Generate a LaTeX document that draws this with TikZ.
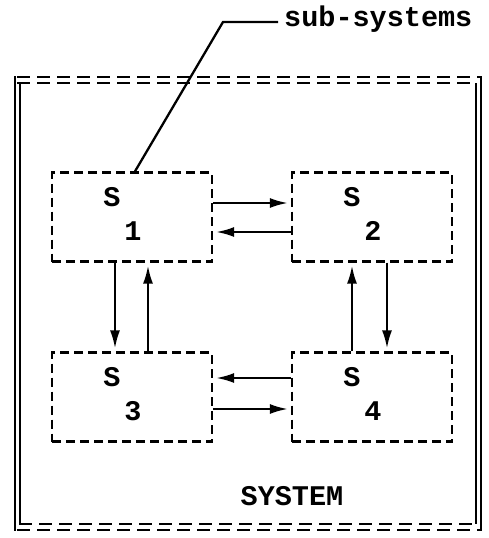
\documentclass[tikz,border=0pt]{standalone}
\usepackage{fontspec}
\setmonofont{Liberation Mono}
\usetikzlibrary{arrows.meta}
\begin{document}
\begin{tikzpicture}[x=1pt,y=-1pt,
  sub/.style={draw, line width=2.3pt, dash pattern=on 9pt off 5pt, minimum width=160pt, minimum height=89pt, inner sep=0pt},
  lbl/.style={font=\ttfamily\bfseries\fontsize{28.5}{30}\selectfont, inner sep=0pt},
  flow/.style={line width=2.2pt, -{Latex[length=18pt,width=10pt]}, shorten >=3pt},
  frame/.style={line width=2.2pt, dash pattern=on 13pt off 7pt},
  side/.style={line width=2.3pt}]
\useasboundingbox (0,0) rectangle (488,538);
% sub-system boxes
\node[sub] (s1) at (132,217) {};
\node[sub] (s2) at (372,217) {};
\node[sub] (s3) at (132,397) {};
\node[sub] (s4) at (372,397) {};
% labels
\node[lbl] (s1a) at (112,197) {S}; \node[lbl] (s1b) at (133,231) {1};
\node[lbl] (s2a) at (352,197) {S}; \node[lbl] (s2b) at (373,231) {2};
\node[lbl] (s3a) at (112,377) {S}; \node[lbl] (s3b) at (133,411) {3};
\node[lbl] (s4a) at (352,377) {S}; \node[lbl] (s4b) at (373,411) {4};
% horizontal flows
\draw[flow] (s1.east |- 0,203) -- (s2.west |- 0,203);
\draw[flow] (s2.west |- 0,232) -- (s1.east |- 0,232);
\draw[flow] (s4.west |- 0,378) -- (s3.east |- 0,378);
\draw[flow] (s3.east |- 0,409) -- (s4.west |- 0,409);
% vertical flows
\draw[flow] (s1.south -| 115,0) -- (s3.north -| 115,0);
\draw[flow] (s3.north -| 148,0) -- (s1.south -| 148,0);
\draw[flow] (s4.north -| 352,0) -- (s2.south -| 352,0);
\draw[flow] (s2.south -| 387,0) -- (s4.north -| 387,0);
% system frame
\draw[frame] (17,77) -- (480,77);
\draw[frame] (17,83) -- (476,83);
\draw[frame] (19,524) -- (476,524);
\draw[frame] (17,530) -- (480,530);
\draw[side] (15,76) -- (15,531);
\draw[side] (20,83) -- (20,524);
\draw[side] (481,76) -- (481,531);
\draw[side] (476,83) -- (476,524);
\node[lbl] (sys) at (292,496) {SYSTEM};
% sub-systems annotation
\node[lbl, anchor=west] (subl) at (284,19) {sub-systems};
\coordinate (k) at (223,22);
\draw[side] (subl.west |- k) ++(-6,0) -- (k) -- (s1.north -| 135,0);
\end{tikzpicture}
\end{document}
